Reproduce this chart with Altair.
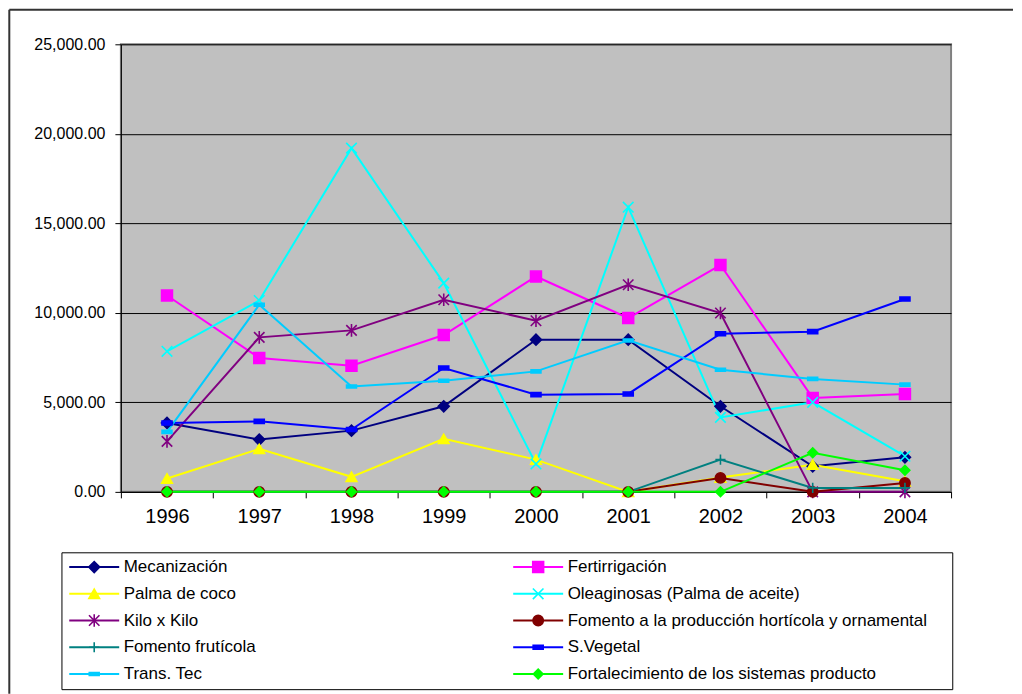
import altair as alt
import pandas as pd

years = ["1996", "1997", "1998", "1999", "2000", "2001", "2002", "2003", "2004"]

series_names = [
    "Mecanización",
    "Fertirrigación",
    "Palma de coco",
    "Oleaginosas (Palma de aceite)",
    "Kilo x Kilo",
    "Fomento a la producción hortícola y ornamental",
    "Fomento frutícola",
    "S.Vegetal",
    "Trans. Tec",
    "Fortalecimiento de los sistemas producto",
]

mecanizacion = [3850, 2920, 3420, 4780, 8500, 8500, 4780, 1430, 1930]
fertirrigacion = [10970, 7480, 7050, 8760, 12030, 9710, 12670, 5250, 5470]
palma_coco = [750, 2400, 840, 2960, 1800, 0, 800, 1520, 590]
oleaginosas = [7850, 10690, 19200, 11660, 1560, 15900, 4160, 5000, 1990]
kilo_x_kilo = [2820, 8630, 9020, 10730, 9560, 11570, 9990, 0, 0]
horticola = [0, 0, 0, 0, 0, 0, 780, 0, 500]
fruticola = [0, 0, 0, 0, 0, 0, 1800, 220, 220]
s_vegetal = [3850, 3940, 3480, 6920, 5430, 5470, 8830, 8950, 10770]
trans_tec = [3350, 10450, 5890, 6210, 6730, 8460, 6820, 6310, 5990]
fortalecimiento = [0, 0, 0, 0, 0, 0, 0, 2180, 1210]

y_ticks = [0, 5000, 10000, 15000, 20000, 25000]

all_values = [mecanizacion, fertirrigacion, palma_coco, oleaginosas, kilo_x_kilo,
              horticola, fruticola, s_vegetal, trans_tec, fortalecimiento]

# styles
colors = ["#000080", "#FF00FF", "#FFFF00", "#00FFFF", "#800080",
          "#800000", "#008080", "#0000FF", "#00CCFF", "#00FF00"]
fills = ["#000080", "#FF00FF", "#FFFF00", "transparent", "transparent",
         "#800000", "transparent", "#0000FF", "#00CCFF", "#00FF00"]
X_PATH = "M-1,-1L1,1M-1,1L1,-1"
STAR_PATH = "M-1,-1L1,1M-1,1L1,-1M0,-1.2L0,1.2"
PLUS_PATH = "M-1,0L1,0M0,-1L0,1"
DASH_S = "M-1,-0.4L1,-0.4L1,0.4L-1,0.4Z"
DASH_T = "M-1,-0.3L1,-0.3L1,0.3L-1,0.3Z"
shapes = ["diamond", "square", "triangle-up", X_PATH, STAR_PATH,
          "circle", PLUS_PATH, DASH_S, DASH_T, "diamond"]
sizes = [121, 95, 170, 169, 144, 85, 144, 36, 121, 130]

rows = []
for name, vals in zip(series_names, all_values):
    for yr, v in zip(years, vals):
        rows.append({"serie": name, "year": yr, "value": v})
df = pd.DataFrame(rows)

leg_df = pd.DataFrame({
    "serie": series_names,
    "col": [i % 2 for i in range(len(series_names))],
    "row": [i // 2 for i in range(len(series_names))],
})

FONT = "Liberation Sans"

stroke_scale = alt.Scale(domain=series_names, range=colors)
fill_scale = alt.Scale(domain=series_names, range=fills)
shape_scale = alt.Scale(domain=series_names, range=shapes)
size_scale = alt.Scale(domain=series_names, range=sizes)

x_scale = alt.Scale(type="band", domain=years, paddingInner=0, paddingOuter=0)
y_scale = alt.Scale(domain=[0, 25000], nice=False)

x_axis = alt.Axis(title=None, labelAngle=0, labelFontSize=20, labelFont=FONT,
                  labelColor="black", tickBand="extent", tickSize=6,
                  tickColor="black", domainColor="black", grid=False,
                  labelPadding=9)
y_axis = alt.Axis(title=None, values=y_ticks, format=",.2f", labelFontSize=16,
                  labelFont=FONT, labelColor="black", tickSize=6,
                  tickColor="black", domainColor="black", grid=True,
                  gridColor="black", gridWidth=1, labelPadding=10)

base = alt.Chart(df)

lines = base.mark_line(strokeWidth=2).encode(
    x=alt.X("year:O", scale=x_scale, axis=x_axis),
    y=alt.Y("value:Q", scale=y_scale, axis=y_axis),
    stroke=alt.Stroke("serie:N", scale=stroke_scale, legend=None),
    detail="serie:N",
)

points = base.mark_point(filled=False, opacity=1, strokeWidth=1.6).encode(
    x=alt.X("year:O", scale=x_scale, axis=None),
    y=alt.Y("value:Q", scale=y_scale, axis=None),
    stroke=alt.Stroke("serie:N", scale=stroke_scale, legend=None),
    fill=alt.Fill("serie:N", scale=fill_scale, legend=None),
    shape=alt.Shape("serie:N", scale=shape_scale, legend=None),
    size=alt.Size("serie:N", scale=size_scale, legend=None),
)

one = pd.DataFrame({"a": [0]})

legend_box = alt.Chart(one).mark_rect(fill="white", stroke="black", strokeWidth=1).encode(
    x=alt.value(-59), x2=alt.value(832.7), y=alt.value(509), y2=alt.value(646)
)

lx = alt.X("col:Q", scale=alt.Scale(domain=[0, 1], range=[-51.7, 392.7], nice=False), axis=None)
ly = alt.Y("row:Q", scale=alt.Scale(domain=[0, 4], range=[523.3, 630.3], nice=False), axis=None)

leg_base = alt.Chart(leg_df)
leg_lines = leg_base.mark_rule(strokeWidth=2, x2Offset=50).encode(
    x=lx, x2=alt.X2("col:Q"), y=ly,
    stroke=alt.Stroke("serie:N", scale=stroke_scale, legend=None),
)
leg_points = leg_base.mark_point(filled=False, opacity=1, strokeWidth=1.6, xOffset=25).encode(
    x=lx, y=ly,
    stroke=alt.Stroke("serie:N", scale=stroke_scale, legend=None),
    fill=alt.Fill("serie:N", scale=fill_scale, legend=None),
    shape=alt.Shape("serie:N", scale=shape_scale, legend=None),
    size=alt.Size("serie:N", scale=size_scale, legend=None),
)
leg_text = leg_base.mark_text(align="left", baseline="middle", xOffset=54.5,
                              fontSize=17, font=FONT, color="black").encode(
    x=lx, y=ly, text="serie:N"
)

frame_top = alt.Chart(one).mark_rule(stroke="#333333", strokeWidth=2).encode(
    x=alt.value(-111.7), x2=alt.value(893), y=alt.value(-34.5)
)
frame_left = alt.Chart(one).mark_rule(stroke="#333333", strokeWidth=2).encode(
    x=alt.value(-111.7), y=alt.value(-34.5), y2=alt.value(650)
)

chart = alt.layer(
    lines, points, legend_box, leg_lines, leg_points, leg_text, frame_top, frame_left
).resolve_scale(
    x="independent", y="independent"
).properties(
    width=831, height=448,
    padding={"left": 0, "top": 0, "right": 0, "bottom": 0},
    background="white",
).configure_view(
    fill="#C0C0C0", stroke="#808080", strokeWidth=2
)

chart.save("out.html", embed_options={"renderer": "svg", "actions": False})
